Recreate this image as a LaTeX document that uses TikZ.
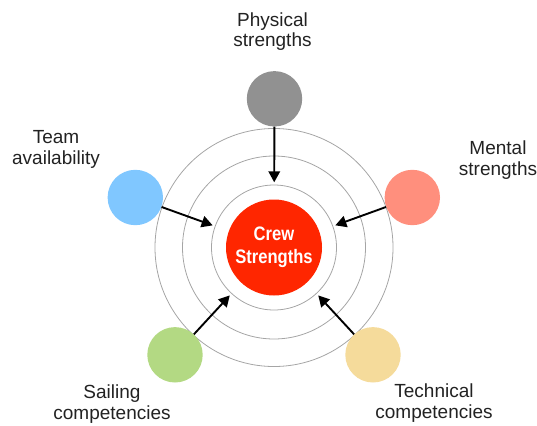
\documentclass[tikz,border=0pt]{standalone}
\usepackage{fontspec}
\setmainfont{Liberation Sans}
\newfontfamily\crewfont[FakeStretch=0.85]{Liberation Sans}
\usetikzlibrary{arrows.meta}

\begin{document}
\begin{tikzpicture}[x=1pt,y=-1pt,
  ring/.style={draw={rgb,255:red,165;green,165;blue,165},line width=0.8pt},
  spot/.style={circle,minimum size=55.4pt,inner sep=0pt},
  lbl/.style={align=center,text={rgb,255:red,34;green,34;blue,34},font=\fontsize{19}{20.5}\selectfont},
  arr/.style={line width=1.9pt,-{Triangle[length=11pt,width=11.5pt]},shorten >=17pt}]
\useasboundingbox (0,0) rectangle (537,425);

%Shape: Circle [centre]
\node [circle,minimum size=96pt,inner sep=0pt,fill={rgb,255:red,255;green,38;blue,0},text=white,align=center,font=\crewfont\bfseries\fontsize{19.5}{22.7}\selectfont] (crew) at (274,247.5) {Crew\\Strengths};

%Shape: Rings
\draw [ring] (crew.center) circle (62.5);
\draw [ring] (crew.center) circle (91.5);
\draw [ring] (crew.center) circle (119);

%Shape: Circles
\node [spot,fill={rgb,255:red,145;green,145;blue,145}] (phys) at (274.5,98.8) {};
\node [spot,fill={rgb,255:red,255;green,143;blue,125}] (mental) at (412.3,197.5) {};
\node [spot,fill={rgb,255:red,128;green,199;blue,255}] (team) at (135.3,197.5) {};
\node [spot,fill={rgb,255:red,179;green,217;blue,131}] (sail) at (175,354.8) {};
\node [spot,fill={rgb,255:red,245;green,219;blue,155}] (tech) at (373,354.8) {};

%Straight Lines
\draw [arr] (phys) -- (crew);
\draw [arr] (mental) -- (crew);
\draw [arr] (team) -- (crew);
\draw [arr] (sail) -- (crew);
\draw [arr] (tech) -- (crew);

% Text Node
\node [lbl] (phys-lbl) at (272.5,31.7) {Physical\\strengths};
% Text Node
\node [lbl] (mental-lbl) at (498,160) {Mental\\strengths};
% Text Node
\node [lbl] (team-lbl) at (56,149.4) {Team\\availability};
% Text Node
\node [lbl] (sail-lbl) at (112,404) {Sailing\\competencies};
% Text Node
\node [lbl] (tech-lbl) at (434,403) {Technical\\competencies};

\end{tikzpicture}
\end{document}
